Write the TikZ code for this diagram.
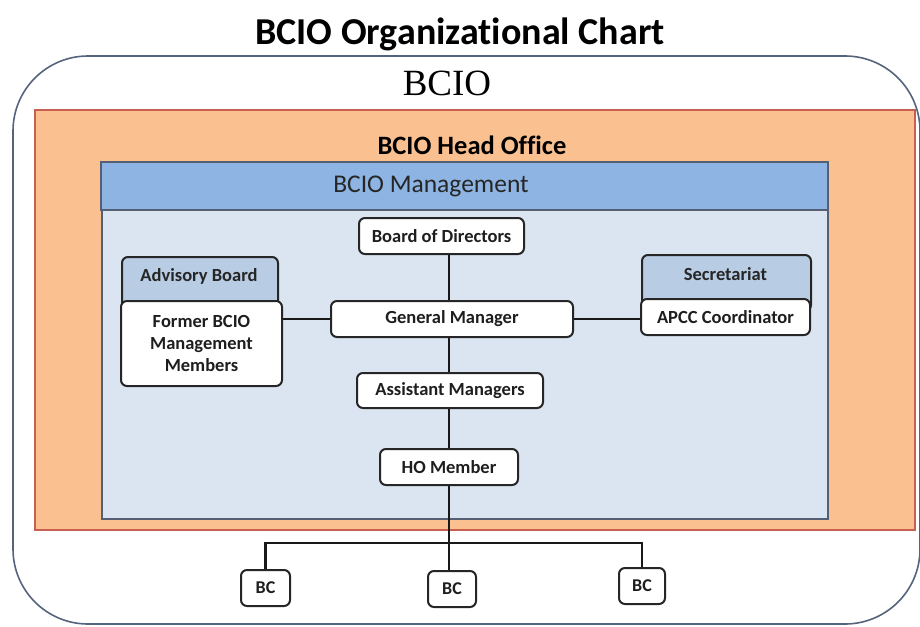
\documentclass[tikz,border=0pt]{standalone}
\usepackage{fontspec}
\setmainfont{Carlito}[Ligatures=NoCommon]
\newfontfamily\serifB{Liberation Serif}
\definecolor{outerc}{RGB}{85,100,125}
\definecolor{orfill}{RGB}{250,192,143}
\definecolor{ordraw}{RGB}{200,95,80}
\definecolor{bhead}{RGB}{141,180,226}
\definecolor{bbody}{RGB}{219,229,241}
\definecolor{bdraw}{RGB}{85,95,115}
\definecolor{subhead}{RGB}{184,204,228}
\definecolor{txt}{RGB}{30,30,30}
\tikzset{
  orgbox/.style={draw=black!85, line width=2pt, fill=white, rounded corners=6pt, font=\fontsize{18.5}{22}\selectfont\bfseries, text=txt, inner sep=0pt, align=center},
  hdlabel/.style={font=\fontsize{18.5}{22}\selectfont\bfseries, text=black!85},
  bcbox/.style={orgbox, minimum height=36pt, font=\fontsize{18}{20}\selectfont\bfseries},
  conn/.style={line width=2.8pt, black!90},
}
\begin{document}
\begin{tikzpicture}[x=1pt,y=-1pt]
\useasboundingbox (0,0) rectangle (920,626);
\fill[white] (0,0) rectangle (920,626);
% title
\node[font=\fontsize{38}{42}\selectfont\bfseries] (title) at (460,34) {BCIO Organizational Chart};
% outer BCIO
\draw[outerc, line width=1.6pt, rounded corners=75pt] (13,56) rectangle (920,624);
\node[font=\serifB\fontsize{37}{40}\selectfont] (bcio) at (447,83) {BCIO};
% head office
\draw[ordraw, fill=orfill, line width=1.6pt] (35,110) rectangle (915,530);
\node[font=\fontsize{26.5}{30}\selectfont\bfseries] (holabel) at (472,145) {BCIO Head Office};
% management
\draw[bdraw, fill=bbody, line width=1.4pt] (102,210) rectangle (828,519);
\draw[bdraw, fill=bhead, line width=1.4pt] (101,162) rectangle (828,210);
\node[font=\fontsize{25.5}{28}\selectfont, text=black!85] (mglabel) at (431,186) {BCIO Management};
% nodes
\node[orgbox, minimum width=165pt, minimum height=36pt] (bod) at (441.5,236) {Board of Directors};
\node[orgbox, minimum width=242pt, minimum height=36pt] (gm) at (452,319) {General Manager};
\node[orgbox, minimum width=186pt, minimum height=35pt] (am) at (450,390.5) {Assistant Managers};
\node[orgbox, minimum width=138pt, minimum height=36pt] (hom) at (449,467) {HO Member};
% advisory board
\node[orgbox, fill=subhead, minimum width=156pt, minimum height=58pt, anchor=north west] (adv) at (121,256) {};
\node[hdlabel] (advlabel) at (199,276) {Advisory Board};
\node[orgbox, minimum width=161pt, minimum height=85pt] (fbm) at (201.5,343.5) {Former BCIO\\Management\\Members};
% secretariat
\node[orgbox, fill=subhead, minimum width=169pt, minimum height=56pt, anchor=north west] (sec) at (641,254) {};
\node[hdlabel] (seclabel) at (725.5,274) {Secretariat};
\node[orgbox, minimum width=169pt, minimum height=36pt] (apcc) at (725.5,317) {APCC Coordinator};
% BC
\node[bcbox, minimum width=49pt] (bc1) at (265.5,588) {BC};
\node[bcbox, minimum width=48pt] (bc2) at (452,589) {BC};
\node[bcbox, minimum width=46pt] (bc3) at (642,586) {BC};
\coordinate (bus) at (449,543);
% connectors
\draw[conn] (bod.south -| bus) -- (gm.north -| bus);
\draw[conn] (gm.south -| bus) -- (am.north -| bus);
\draw[conn] (am.south -| bus) -- (hom.north -| bus);
\draw[conn] (fbm.east |- gm.west) -- (gm.west);
\draw[conn] (gm.east) -- (apcc.west |- gm.east);
\draw[conn] (hom.south -| bus) -- (bc2.north -| bus);
\draw[conn] (bc1.north) -- (bc1.north |- bus) -- (bc3.north |- bus) -- (bc3.north);
\end{tikzpicture}
\end{document}
